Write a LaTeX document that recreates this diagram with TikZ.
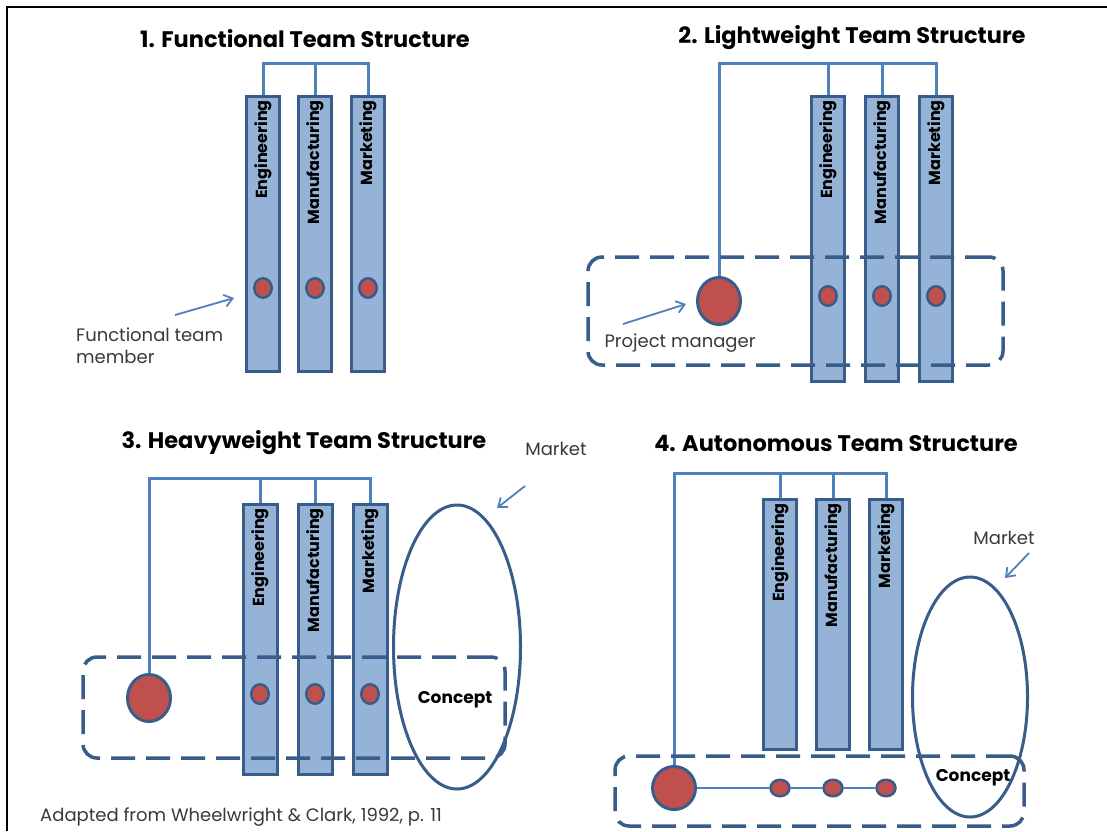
\documentclass[tikz,border=0pt]{standalone}
\usepackage{fontspec}
\setmainfont{Poppins}
\usetikzlibrary{shapes.geometric,arrows.meta,calc}
\definecolor{barfill}{HTML}{95B3D7}
\definecolor{barline}{HTML}{385D8A}
\definecolor{connblue}{HTML}{4F81BD}
\definecolor{dotred}{HTML}{C0504D}
\definecolor{txtgray}{HTML}{3A3A3A}
\begin{document}
\begin{tikzpicture}[x=1pt,y=-1pt,
  bar/.style={draw=barline, fill=barfill, line width=3pt, minimum width=33pt, inner sep=0pt, rectangle},
  blabel/.style={rotate=90, anchor=east, inner sep=0pt, font=\fontsize{16}{16}\selectfont\bfseries},
  dot/.style={ellipse, draw=barline, fill=dotred, line width=2.5pt, minimum width=17.5pt, minimum height=19.5pt, inner sep=0pt},
  pm/.style={ellipse, draw=barline, fill=dotred, line width=3pt, minimum width=43pt, minimum height=47pt, inner sep=0pt},
  dbox/.style={draw=barline, line width=3.5pt, dash pattern=on 24pt off 11pt, rounded corners=14pt, rectangle, inner sep=0pt},
  mkt/.style={ellipse, draw=barline, line width=3pt, inner sep=0pt},
  conn/.style={draw=connblue, line width=3pt},
  thinconn/.style={draw=connblue, line width=2.5pt},
  pointer/.style={draw=connblue, line width=1.8pt, -{Straight Barb[length=8pt,width=12pt]}},
  title/.style={font=\fontsize{22.5}{22.5}\selectfont\bfseries, inner sep=0pt},
  note/.style={font=\fontsize{18}{22}\selectfont, text=txtgray, inner sep=0pt},
  concept/.style={font=\fontsize{17}{17}\selectfont\bfseries, inner sep=0pt}
]
\useasboundingbox (0,0) rectangle (1107,831);
\fill[white] (0,0) rectangle (1107,831);
\draw[line width=2.5pt] (7,831) -- (7,7) -- (1107,7);

% ---------- 1. Functional ----------
\node[title] (t1) at (305,39) {1. Functional Team Structure};
\coordinate (top1) at (0,63);
\node[bar, minimum height=275pt] (e1) at (263,234) {};
\node[bar, minimum height=275pt] (m1) at (315,234) {};
\node[bar, minimum height=275pt] (k1) at (368,234) {};
\node[blabel] (le1) at ($(e1.north)+(0,5)$) {Engineering};
\node[blabel] (lm1) at ($(m1.north)+(0,5)$) {Manufacturing};
\node[blabel] (lk1) at ($(k1.north)+(0,5)$) {Marketing};
\draw[conn] (e1.north) |- (k1.north |- top1) -- (k1.north);
\draw[conn] (m1.north) -- (m1.north |- top1);
\node[dot] (d11) at (263,288) {};
\node[dot] (d12) at (315,288) {};
\node[dot] (d13) at (368,288) {};
\node[note, anchor=west, align=left] (n1) at (76,346) {Functional team\\member};
\coordinate (a1s) at (175,315);
\coordinate (a1e) at (234,298);
\draw[pointer] (a1s) -- (a1e);

% ---------- 2. Lightweight ----------
\node[title] (t2) at (852,38) {2. Lightweight Team Structure};
\coordinate (top2) at (0,63);
\node[bar, minimum height=285pt] (e2) at (828,239) {};
\node[bar, minimum height=285pt] (m2) at (882,239) {};
\node[bar, minimum height=285pt] (k2) at (936,239) {};
\node[blabel] (le2) at ($(e2.north)+(0,5)$) {Engineering};
\node[blabel] (lm2) at ($(m2.north)+(0,5)$) {Manufacturing};
\node[blabel] (lk2) at ($(k2.north)+(0,5)$) {Marketing};
\node[dot] (d21) at (828,296) {};
\node[dot] (d22) at (882,296) {};
\node[dot] (d23) at (936,296) {};
\node[pm] (pm2) at (719,301) {};
\draw[conn] (pm2.north) |- (k2.north |- top2) -- (k2.north);
\draw[conn] (e2.north) -- (e2.north |- top2);
\draw[conn] (m2.north) -- (m2.north |- top2);
\node[dbox, minimum width=415pt, minimum height=108pt] (b2) at (795.5,311) {};
\node[note] (n2) at (680,343) {Project manager};
\coordinate (a2s) at (623,324);
\coordinate (a2e) at (686,304);
\draw[pointer] (a2s) -- (a2e);

% ---------- 3. Heavyweight ----------
\node[title] (t3) at (304,443) {3. Heavyweight Team Structure};
\coordinate (top3) at (0,478);
\node[bar, minimum width=34pt, minimum height=270pt] (e3) at (260,639.5) {};
\node[bar, minimum width=34pt, minimum height=270pt] (m3) at (315,639.5) {};
\node[bar, minimum width=34pt, minimum height=270pt] (k3) at (370,639.5) {};
\node[blabel] (le3) at ($(e3.north)+(0,5)$) {Engineering};
\node[blabel] (lm3) at ($(m3.north)+(0,5)$) {Manufacturing};
\node[blabel] (lk3) at ($(k3.north)+(0,5)$) {Marketing};
\node[dot] (d31) at (260,694) {};
\node[dot] (d32) at (315,694) {};
\node[dot] (d33) at (370,694) {};
\node[pm] (pm3) at (149,698) {};
\draw[conn] (pm3.north) |- (k3.north |- top3) -- (k3.north);
\draw[conn] (e3.north) -- (e3.north |- top3);
\draw[conn] (m3.north) -- (m3.north |- top3);
\node[mkt, minimum width=127pt, minimum height=284pt] (el3) at (457,647) {};
\node[dbox, minimum width=422pt, minimum height=101pt] (b3) at (294,707.5) {};
\node[concept] (c3) at (455,700) {Concept};
\node[note] (mk3) at (556,449) {Market};
\coordinate (a3s) at (525,486);
\coordinate (a3e) at (497,508);
\draw[pointer] (a3s) -- (a3e);
\node[note, anchor=west] (cite) at (40,817) {Adapted from Wheelwright \& Clark, 1992, p. 11};

% ---------- 4. Autonomous ----------
\node[title] (t4) at (836,443) {4. Autonomous Team Structure};
\coordinate (top4) at (0,473);
\node[bar, minimum height=250pt] (e4) at (780,624.5) {};
\node[bar, minimum height=250pt] (m4) at (833,624.5) {};
\node[bar, minimum height=250pt] (k4) at (886,624.5) {};
\node[blabel] (le4) at ($(e4.north)+(0,5)$) {Engineering};
\node[blabel] (lm4) at ($(m4.north)+(0,5)$) {Manufacturing};
\node[blabel] (lk4) at ($(k4.north)+(0,5)$) {Marketing};
\node[pm, minimum width=43pt, minimum height=43pt] (pm4) at (674,788) {};
\node[dot, minimum width=19pt, minimum height=16.5pt] (d41) at (780,788) {};
\node[dot, minimum width=19pt, minimum height=16.5pt] (d42) at (833,788) {};
\node[dot, minimum width=19pt, minimum height=16.5pt] (d43) at (886,788) {};
\draw[conn] (pm4.north) |- (k4.north |- top4) -- (k4.north);
\draw[conn] (e4.north) -- (e4.north |- top4);
\draw[conn] (m4.north) -- (m4.north |- top4);
\draw[thinconn] (pm4.east) -- (d41.west);
\draw[thinconn] (d41.east) -- (d42.west);
\draw[thinconn] (d42.east) -- (d43.west);
\node[mkt, minimum width=115pt, minimum height=240pt] (el4) at (970,697) {};
\node[dbox, minimum width=409pt, minimum height=70pt] (b4) at (819.5,791) {};
\node[concept] (c4) at (973,778) {Concept};
\node[note] (mk4) at (1004,538) {Market};
\coordinate (a4s) at (1029,553);
\coordinate (a4e) at (1005,578);
\draw[pointer] (a4s) -- (a4e);
\end{tikzpicture}
\end{document}
